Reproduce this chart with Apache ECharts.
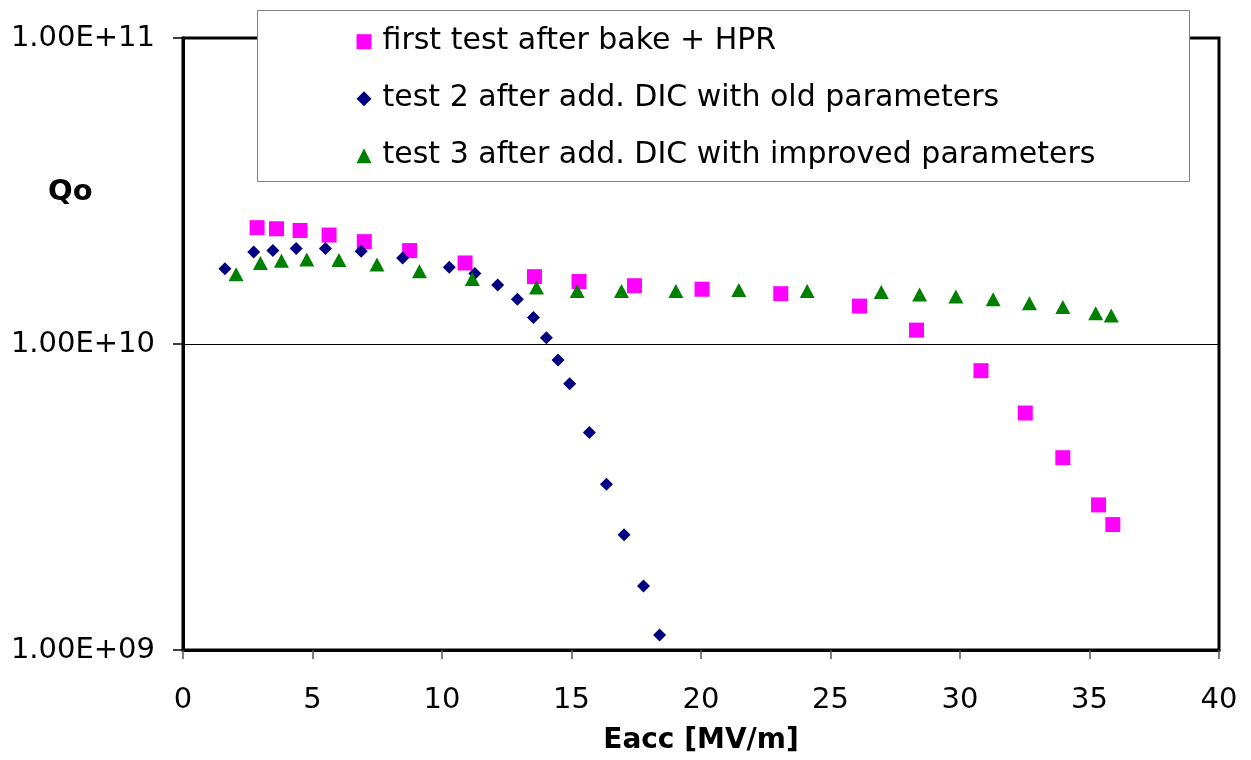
<!DOCTYPE html>
<html>
<head>
<meta charset="utf-8">
<script src="https://cdn.jsdelivr.net/npm/echarts@6/dist/echarts.min.js"></script>
<style>html,body{margin:0;padding:0;background:#fff}#c{width:1251px;height:760px}</style>
</head>
<body>
<div id="c"></div>
<script>
// ---- data ----
const seriesNames = [
  'first test after bake + HPR',
  'test 2 after add. DIC with old parameters',
  'test 3 after add. DIC with improved parameters'
];
const test1E = [2.86, 3.61, 4.52, 5.64, 7.00, 8.75, 10.89, 13.57, 15.29, 17.43, 20.04, 23.08, 26.12, 28.32, 30.81, 32.52, 33.97, 35.35, 35.90];
const test1Q = [2.40e10, 2.38e10, 2.35e10, 2.27e10, 2.16e10, 2.02e10, 1.84e10, 1.66e10, 1.60e10, 1.55e10, 1.51e10, 1.46e10, 1.33e10, 1.11e10, 8.18e9, 5.95e9, 4.25e9, 2.98e9, 2.57e9];
const test2E = [1.62, 2.73, 3.47, 4.37, 5.50, 6.88, 8.48, 10.28, 11.27, 12.15, 12.91, 13.53, 14.03, 14.48, 14.93, 15.69, 16.35, 17.03, 17.78, 18.40];
const test2Q = [1.76e10, 2.00e10, 2.02e10, 2.05e10, 2.05e10, 2.01e10, 1.91e10, 1.78e10, 1.70e10, 1.56e10, 1.40e10, 1.22e10, 1.048e10, 8.86e9, 7.41e9, 5.14e9, 3.48e9, 2.38e9, 1.62e9, 1.12e9];
const test3E = [2.05, 2.99, 3.80, 4.78, 6.02, 7.49, 9.13, 11.17, 13.65, 15.22, 16.93, 19.03, 21.46, 24.10, 26.96, 28.44, 29.84, 31.28, 32.68, 33.97, 35.24, 35.84];
const test3Q = [1.69e10, 1.84e10, 1.87e10, 1.89e10, 1.88e10, 1.82e10, 1.73e10, 1.63e10, 1.53e10, 1.49e10, 1.49e10, 1.49e10, 1.50e10, 1.49e10, 1.48e10, 1.45e10, 1.43e10, 1.40e10, 1.36e10, 1.32e10, 1.26e10, 1.24e10];
const yTickLabels = ['1.00E+09', '1.00E+10', '1.00E+11'];
const xTickLabels = ['0', '5', '10', '15', '20', '25', '30', '35', '40'];
const xTitle = 'Eacc [MV/m]';
const yTitle = 'Qo';

// ---- chart ----
const zip = (a, b) => a.map((v, i) => [v, b[i]]);
const FONT = 'DejaVu Sans';
const chart = echarts.init(document.getElementById('c'), null, {renderer: 'canvas'});
chart.setOption({
  animation: false,
  backgroundColor: '#fff',
  grid: {left: 183, right: 32, top: 38, bottom: 104, show: true, borderColor: '#000', borderWidth: 3, backgroundColor: 'transparent'},
  xAxis: {
    type: 'value', min: 0, max: 40, interval: 5,
    name: xTitle, nameLocation: 'middle', nameGap: 77,
    nameTextStyle: {fontFamily: FONT, fontWeight: 'bold', fontSize: 28, color: '#000'},
    axisLine: {show: true, onZero: false, lineStyle: {color: '#000', width: 3}},
    axisTick: {show: true, inside: false, length: 9, lineStyle: {color: '#555', width: 1.5}},
    axisLabel: {margin: 36, fontFamily: FONT, fontSize: 29, color: '#000',
      formatter: v => xTickLabels[Math.round(v / 5)]},
    splitLine: {show: false}
  },
  yAxis: {
    type: 'log', logBase: 10, min: 1e9, max: 1e11, interval: 1,
    axisLine: {show: true, onZero: false, lineStyle: {color: '#000', width: 3}},
    axisTick: {show: true, inside: false, length: 10, lineStyle: {color: '#000', width: 1.5}},
    minorTick: {show: false},
    axisLabel: {margin: 28, fontFamily: FONT, fontSize: 29, color: '#000',
      formatter: v => yTickLabels[Math.round(Math.log10(v)) - 9]},
    splitLine: {show: true, lineStyle: {color: '#000', width: 1}}
  },
  legend: {
    orient: 'vertical', left: 356.5, top: 24.7, itemGap: 23, padding: 0,
    itemWidth: 15, itemHeight: 15, z: 20,
    backgroundColor: 'transparent',
    textStyle: {fontFamily: FONT, fontSize: 30, color: '#000', lineHeight: 34, padding: [0, 0, 0, 6]},
    data: [
      {name: seriesNames[0], icon: 'rect'},
      {name: seriesNames[1], icon: 'diamond'},
      {name: seriesNames[2], icon: 'triangle'}
    ]
  },
  graphic: {
    elements: [
      {type: 'rect', z: 15, shape: {x: 257.5, y: 10.5, width: 932, height: 171},
        style: {fill: '#fff', stroke: '#808080', lineWidth: 1}},
      {type: 'text', z: 15, left: 48, top: 177.5,
        style: {text: yTitle, fontFamily: FONT, fontWeight: 'bold', fontSize: 29, fill: '#000'}}
    ]
  },
  series: [
    {name: seriesNames[0], type: 'scatter', symbol: 'rect', symbolSize: 15,
      itemStyle: {color: '#FF00FF', opacity: 1}, data: zip(test1E, test1Q)},
    {name: seriesNames[1], type: 'scatter', symbol: 'diamond', symbolSize: 13,
      itemStyle: {color: '#000080', opacity: 1}, data: zip(test2E, test2Q)},
    {name: seriesNames[2], type: 'scatter', symbol: 'triangle', symbolSize: [15, 14],
      itemStyle: {color: '#008000', opacity: 1}, data: zip(test3E, test3Q)}
  ]
});
</script>
</body>
</html>
